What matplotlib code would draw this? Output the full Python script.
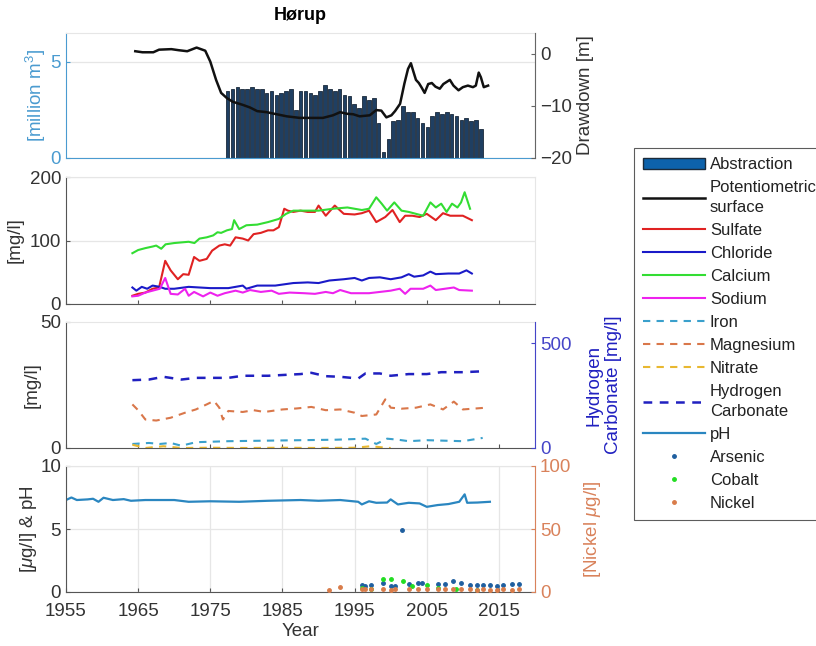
import numpy as np
import matplotlib
matplotlib.use("Agg")
import matplotlib.pyplot as plt
from matplotlib.patches import Patch
from matplotlib.lines import Line2D

plt.rcParams['font.family'] = ['Liberation Sans', 'DejaVu Sans']
plt.rcParams['mathtext.fontset'] = 'custom'
plt.rcParams['mathtext.rm'] = 'Liberation Sans'
plt.rcParams['mathtext.it'] = 'Liberation Sans:italic'

# ---------------- data ----------------
abstraction_years = np.linspace(1977.4, 2012.5, 53)
abstraction = [3.5, 3.6, 3.7, 3.6, 3.6, 3.7, 3.6, 3.6, 3.4, 3.5, 3.3, 3.4, 3.5, 3.6,
               2.5, 3.5, 3.5, 3.4, 3.3, 3.5, 3.8, 3.6, 3.5, 3.6, 3.3, 3.2, 2.8, 2.6,
               3.2, 3.0, 3.1, 1.8, 0.3, 1.0, 1.9, 2.0, 2.7, 2.4, 2.4, 2.1, 1.8, 1.6,
               2.2, 2.4, 2.3, 2.4, 2.3, 2.2, 2.0, 2.1, 1.9, 2.0, 1.5]

dd_years = [1964.6, 1965.6, 1967.1, 1967.9, 1969.6, 1970.6, 1971.8, 1973.1, 1974.3, 1975.0,
            1975.8, 1976.5, 1977.3, 1978.1, 1979.5, 1980.5, 1981.5, 1982.8, 1984.2, 1985.6,
            1987.4, 1989.2, 1990.6, 1992.0, 1993.0, 1993.9, 1994.8, 1995.7, 1997.1, 1998.0,
            1998.7, 1999.4, 2000.1, 2000.6, 2001.3, 2001.9, 2002.4, 2002.8, 2003.1, 2003.5,
            2003.9, 2004.3, 2004.7, 2005.2, 2005.7, 2006.2, 2006.8, 2007.3, 2008.2, 2008.7,
            2009.4, 2010.0, 2010.7, 2011.4, 2011.8, 2012.2, 2012.5, 2012.9, 2013.5]
drawdown = [0.5, 0.3, 0.3, 0.8, 0.9, 0.7, 0.5, 1.2, 0.6, -1.5,
            -5.0, -7.5, -8.5, -9.2, -9.8, -10.3, -11.0, -11.2, -11.6, -12.0,
            -12.3, -12.3, -12.3, -11.8, -11.2, -11.5, -11.6, -12.0, -11.8, -10.8,
            -10.9, -12.2, -11.8, -11.0, -9.6, -5.7, -2.9, -1.8, -3.2, -5.0,
            -5.6, -6.5, -7.5, -5.8, -5.6, -6.3, -6.7, -5.8, -5.0, -6.1,
            -7.0, -6.4, -6.1, -6.4, -6.1, -3.6, -4.5, -6.4, -6.1]

ca_years = [1964.2, 1965, 1966, 1967, 1967.5, 1968.2, 1968.8, 1970, 1971, 1972, 1972.8, 1973.5,
            1974.5, 1975.4, 1976, 1976.5, 1977.3, 1978, 1978.3, 1979, 1980, 1981.5, 1983,
            1984.5, 1985.5, 1986.5, 1988, 1990, 1992, 1994, 1996, 1997, 1998, 1998.75,
            1999.5, 2000.5, 2001.5, 2002.5, 2003.5, 2004.5, 2005.5, 2006.25, 2007, 2007.75,
            2008.5, 2009.25, 2009.75, 2010.25, 2011]
calcium = [80, 85, 88, 90.5, 92, 87, 94, 96, 97, 98, 96, 103,
           105, 108, 113, 112, 116, 118, 132, 118, 124, 125, 129,
           134, 142, 147, 147, 147, 150, 152, 148, 150, 168, 158,
           147, 160, 147, 145, 142, 139, 160, 152, 158, 145,
           158, 152, 160, 176, 150]

so4_years = [1964.2, 1965, 1966, 1967, 1967.9, 1968.75, 1969.5, 1970.5, 1971.25, 1972, 1972.75,
             1973.5, 1974.5, 1975.25, 1976.25, 1977, 1977.75, 1978.5, 1979.5, 1980.25, 1981,
             1982, 1983, 1983.75, 1984.5, 1985.25, 1985.75, 1986.5, 1987.5, 1988.5, 1989.5,
             1990, 1991, 1992.25, 1993.5, 1995, 1996, 1997, 1998, 1999.25, 2000.25, 2001.25,
             2002, 2003, 2004, 2005, 2006.25, 2007.25, 2008.25, 2010, 2011.25]
sulfate = [13, 16, 18, 24, 26, 68, 53, 39, 47, 46, 74,
           68, 71, 84, 92, 94, 92, 105, 103, 100, 110,
           112, 116, 116, 121, 150, 147, 145, 147, 145, 145,
           155, 139, 155, 142, 141, 143, 147, 129, 137, 148, 129,
           139, 139, 137, 142, 132, 143, 139, 139, 132]

cl_years = [1964.2, 1964.75, 1965.5, 1966.25, 1967, 1968, 1968.75, 1970, 1972, 1975, 1977.5,
            1979.5, 1980, 1981.5, 1984, 1986.5, 1988.5, 1990, 1991.5, 1993.5, 1995, 1996,
            1997, 1998.5, 2000, 2001.5, 2002.5, 2003.25, 2004.5, 2005.5, 2006.25, 2008,
            2009.5, 2010.5, 2011.25]
chloride = [26, 21, 27, 24, 29, 27, 24, 24, 27, 25, 25,
            29, 24, 29, 29, 33, 34, 33, 37, 39, 41, 37,
            41, 42, 39, 42, 47, 43, 45, 51, 47, 48,
            48, 53, 48]

na_years = [1964.2, 1965, 1966, 1967, 1968, 1968.75, 1969.5, 1970.5, 1971.5, 1972, 1972.75,
            1974, 1975, 1976, 1977, 1978.5, 1979.5, 1980.5, 1982, 1983.5, 1984.5, 1986,
            1988, 1989.5, 1991, 1992, 1993, 1994.5, 1997, 1998.5, 2000, 2001.25, 2002,
            2002.75, 2004.5, 2005.5, 2006.25, 2007.5, 2008.75, 2009.5, 2011.25]
sodium = [12, 13, 18, 21, 24, 41, 16, 15, 24, 13, 19,
          12, 18, 13, 17, 21, 18, 22, 19, 21, 16, 18,
          17, 16, 19, 17, 22, 17, 17, 19, 21, 24, 16,
          24, 24, 29, 22, 24, 26, 22, 21]

hco3_years = [1964.2, 1966.5, 1968.5, 1971, 1973, 1977.5, 1979.5, 1983, 1987.5, 1989, 1991,
              1993, 1995.5, 1996.5, 1998.5, 2000, 2002.5, 2005, 2007, 2010, 2013.25]
hco3 = [323, 326, 339, 326, 334, 334, 344, 344, 352, 358, 342,
        339, 331, 355, 355, 344, 352, 352, 361, 361, 366]

mg_years = [1964.2, 1965, 1966, 1967.5, 1969.5, 1971.5, 1973, 1974.5, 1975.5, 1976.25, 1976.75,
            1977.5, 1979.5, 1981, 1982.5, 1985, 1987, 1989, 1991, 1993, 1995, 1996, 1998,
            1999.25, 2000, 2001.5, 2003.5, 2005.5, 2007.25, 2008.75, 2010, 2013.25]
magnesium = [17.3, 15, 11.3, 10.9, 12, 14, 15.3, 17.3, 18.7, 16, 11.3,
             14.7, 14.3, 15, 14.3, 15.3, 15.7, 16.3, 15, 15.3, 14, 12.7, 13.3,
             19.3, 16, 15.6, 16, 17.3, 15.3, 18.4, 15.3, 16]

fe_years = [1964.2, 1966.5, 1968, 1969.5, 1971, 1973, 1977.5, 1982.5, 1987.5, 1992.5, 1996.5,
            1998, 1999.5, 2001, 2002.5, 2005, 2007.5, 2010, 2012.75]
iron = [1.6, 2.0, 1.6, 2.0, 0.9, 2.3, 2.7, 2.9, 3.1, 3.3, 3.7,
        1.6, 3.7, 3.3, 2.7, 3.1, 2.9, 2.7, 4.0]

no3_years = [1964.2, 1966, 1968.5, 1971, 1975, 1980, 1985, 1990, 1995, 1997.25, 1999, 2000]
nitrate = [1.3, 0.0, 0.7, 0.0, 0.1, 0.0, 0.1, 0.0, 0.1, 0.7, 0.2, 0.0]

ph_years = [1955, 1955.75, 1956.5, 1958, 1958.75, 1959.5, 1960.2, 1961.5, 1963, 1964, 1966,
            1970, 1972, 1975, 1979, 1983, 1987.5, 1990, 1993, 1995.5, 1996, 1997, 1998,
            1999.5, 2000, 2001, 2002.5, 2004, 2005, 2006.5, 2008, 2009.5, 2010.25, 2010.6,
            2012, 2013.75]
ph = [7.3, 7.5, 7.3, 7.35, 7.4, 7.16, 7.48, 7.3, 7.37, 7.24, 7.3,
      7.3, 7.16, 7.2, 7.16, 7.24, 7.3, 7.24, 7.3, 7.16, 6.95, 7.2, 7.08,
      7.1, 7.35, 6.95, 7.08, 7.03, 6.76, 6.9, 6.98, 7.16, 7.75, 7.08,
      7.1, 7.16]

as_years = [1996.0, 1996.5, 1997.3, 1998.9, 2000.1, 2000.6, 2001.5, 2002.5, 2003.8, 2004.3,
            2006.5, 2007.5, 2008.7, 2009.8, 2011.0, 2012.0, 2012.8, 2013.8, 2014.8, 2015.5,
            2016.8, 2017.8]
arsenic = [0.53, 0.5, 0.53, 0.7, 0.5, 0.45, 4.9, 0.65, 0.7, 0.7,
           0.6, 0.6, 0.85, 0.7, 0.53, 0.53, 0.53, 0.53, 0.5, 0.53,
           0.65, 0.65]

co_years = [1996.0, 1997.3, 1998.9, 2000.1, 2001.7, 2003.0, 2005.0, 2006.5, 2009.0, 2012.0]
cobalt = [0.3, 0.25, 1.0, 1.05, 0.85, 0.5, 0.55, 0.3, 0.2, 0.15]

ni_years = [1991.5, 1993.0, 1996.0, 1996.5, 1997.3, 1998.9, 2000.1, 2000.6, 2002.5, 2003.8,
            2005.0, 2006.5, 2007.5, 2008.7, 2009.8, 2011.0, 2012.0, 2012.8, 2013.8, 2014.8,
            2015.5, 2016.8, 2017.8]
nickel = [1.8, 3.8, 2.5, 2.2, 2.5, 2.0, 1.8, 2.5, 2.0, 2.2,
          2.0, 2.2, 2.0, 2.5, 2.0, 2.2, 1.8, 2.0, 1.8, 1.8,
          2.0, 1.8, 2.0]

x_ticks = [1955, 1965, 1975, 1985, 1995, 2005, 2015]

# ---------------- style ----------------
FS = 13.5
C_ABS_AX = '#4a9bd0'
C_BAR = '#1f3f62'
C_BAR_EDGE = '#1b2a3a'
C_DD = '#111111'
C_SO4 = '#e02222'
C_CL = '#1a1ac8'
C_CA = '#33dd33'
C_NA = '#ee22ee'
C_FE = '#3aa0cc'
C_MG = '#d9774a'
C_NO3 = '#e8b830'
C_HCO3 = '#2020c0'
C_PH = '#2a86c0'
C_AS = '#1f5f9f'
C_CO = '#22dd22'
C_NI = '#d97c4a'
C_HCO3_AX = '#4545c8'
C_NI_AX = '#d9825b'
GRID = '#e6e6e6'
SPINE = '#555555'

fig = plt.figure(figsize=(8.16, 6.46), dpi=100)
L, W = 66 / 816, 469 / 816
pos = [(33, 158), (177, 304), (322, 448), (466, 592)]
axes = []
for top, bot in pos:
    ax = fig.add_axes([L, 1 - bot / 646, W, (bot - top) / 646])
    axes.append(ax)
ax1, ax2, ax3, ax4 = axes


def base_style(ax, color_left=SPINE, grid_y=True, grid_x=False, show_x=False):
    ax.set_xlim(1955, 2020)
    ax.set_xticks(x_ticks)
    ax.tick_params(axis='both', direction='in', labelsize=FS, length=3,
                   color=SPINE, labelcolor='#333333')
    ax.tick_params(axis='x', labelbottom=show_x, pad=8)
    ax.spines['left'].set_color(color_left)
    ax.spines['bottom'].set_color(SPINE)
    ax.spines['top'].set_color(GRID)
    ax.spines['right'].set_color(GRID)
    if grid_y:
        ax.yaxis.grid(True, color=GRID, lw=0.9)
    if grid_x:
        ax.xaxis.grid(True, color=GRID, lw=0.9)
    ax.set_axisbelow(True)


def right_style(axr, color):
    axr.tick_params(axis='y', direction='in', labelsize=FS, length=3,
                    colors=color, labelcolor=color)
    for s in ['left', 'top', 'bottom']:
        axr.spines[s].set_visible(False)
    axr.spines['right'].set_color(color)


# ---- panel 1 ----
base_style(ax1, color_left=C_ABS_AX)
ax1.spines['bottom'].set_color(C_ABS_AX)
ax1.tick_params(axis='y', colors=C_ABS_AX, labelcolor=C_ABS_AX)
ax1.tick_params(axis='x', length=0)
ax1.bar(abstraction_years, abstraction, width=0.5, color=C_BAR, edgecolor=C_BAR_EDGE, lw=0.6)
ax1.set_ylim(0, 6.5)
ax1.set_yticks([0, 5])
ax1.set_ylabel('[million m$^3$]', color=C_ABS_AX, fontsize=FS, labelpad=2)
ax1.set_title('Hørup', fontsize=13, fontweight='bold', pad=9)
ax1r = ax1.twinx()
ax1r.plot(dd_years, drawdown, color=C_DD, lw=1.8)
ax1r.set_ylim(-20, 4)
ax1r.set_yticks([-20, -10, 0])
right_style(ax1r, '#666666')
ax1r.tick_params(axis='y', labelcolor='#333333')
ax1r.set_ylabel('Drawdown [m]', fontsize=FS, color='#333333', labelpad=4)

# ---- panel 2 ----
base_style(ax2)
ax2.plot(so4_years, sulfate, color=C_SO4, lw=1.5)
ax2.plot(cl_years, chloride, color=C_CL, lw=1.5)
ax2.plot(ca_years, calcium, color=C_CA, lw=1.5)
ax2.plot(na_years, sodium, color=C_NA, lw=1.5)
ax2.set_ylim(0, 200)
ax2.set_yticks([0, 100, 200])
ax2.set_ylabel('[mg/l]', fontsize=FS, color='#333333', labelpad=4)

# ---- panel 3 ----
base_style(ax3, grid_y=False)
dash = (0, (3.5, 3))
ax3.plot(fe_years, iron, color=C_FE, lw=1.5, ls=dash)
ax3.plot(mg_years, magnesium, color=C_MG, lw=1.5, ls=dash)
ax3.plot(no3_years, nitrate, color=C_NO3, lw=1.5, ls=dash)
ax3.set_ylim(0, 50)
ax3.set_yticks([0, 50])
ax3.set_ylabel('[mg/l]', fontsize=FS, color='#333333', labelpad=0)
ax3r = ax3.twinx()
ax3r.plot(hco3_years, hco3, color=C_HCO3, lw=1.8, ls=dash)
ax3r.set_ylim(0, 600)
ax3r.set_yticks([0, 500])
right_style(ax3r, C_HCO3_AX)
ax3r.set_ylabel('Hydrogen\nCarbonate [mg/l]', fontsize=FS, color=C_HCO3, labelpad=10)

# ---- panel 4 ----
base_style(ax4, grid_y=True, grid_x=True, show_x=True)
ax4.plot(ph_years, ph, color=C_PH, lw=1.6)
ax4.plot(as_years, arsenic, ls='none', marker='.', ms=5, color=C_AS)
ax4.plot(co_years, cobalt, ls='none', marker='.', ms=5, color=C_CO)
ax4.set_ylim(0, 10)
ax4.set_yticks([0, 5, 10])
ax4.set_ylabel('[$\\mu$g/l] & pH', fontsize=FS, color='#333333', labelpad=1)
ax4.set_xlabel('Year', fontsize=FS, color='#333333', labelpad=2)
ax4r = ax4.twinx()
ax4r.plot(ni_years, nickel, ls='none', marker='.', ms=5, color=C_NI)
ax4r.set_ylim(0, 100)
ax4r.set_yticks([0, 50, 100])
right_style(ax4r, C_NI_AX)
ax4r.set_ylabel('[Nickel $\\mu$g/l]', fontsize=FS, color=C_NI_AX, labelpad=8)

# ---- legend ----
handles = [
    Patch(facecolor='#0d62ab', edgecolor='#1b2a3a'),
    Line2D([], [], color=C_DD, lw=1.8),
    Line2D([], [], color=C_SO4, lw=1.5),
    Line2D([], [], color=C_CL, lw=1.5),
    Line2D([], [], color=C_CA, lw=1.5),
    Line2D([], [], color=C_NA, lw=1.5),
    Line2D([], [], color=C_FE, lw=1.5, ls=dash),
    Line2D([], [], color=C_MG, lw=1.5, ls=dash),
    Line2D([], [], color=C_NO3, lw=1.5, ls=dash),
    Line2D([], [], color=C_HCO3, lw=1.8, ls=dash),
    Line2D([], [], color=C_PH, lw=1.6),
    Line2D([], [], ls='none', marker='.', ms=5, color=C_AS),
    Line2D([], [], ls='none', marker='.', ms=5, color=C_CO),
    Line2D([], [], ls='none', marker='.', ms=5, color=C_NI),
]
labels = ['Abstraction', 'Potentiometric\nsurface', 'Sulfate', 'Chloride', 'Calcium',
          'Sodium', 'Iron', 'Magnesium', 'Nitrate', 'Hydrogen\nCarbonate', 'pH',
          'Arsenic', 'Cobalt', 'Nickel']
leg = fig.legend(handles, labels, loc='upper left', bbox_to_anchor=(634 / 816, 1 - 148 / 646),
                 fontsize=12, frameon=True, fancybox=False, edgecolor='#333333',
                 handlelength=3.7, handletextpad=0.3, labelspacing=0.48, borderpad=0.55,
                 borderaxespad=0)
leg.get_frame().set_linewidth(0.8)
for t in leg.get_texts():
    t.set_color('#222222')
    t.set_linespacing(1.4)

fig.savefig('out.png', dpi=100)
